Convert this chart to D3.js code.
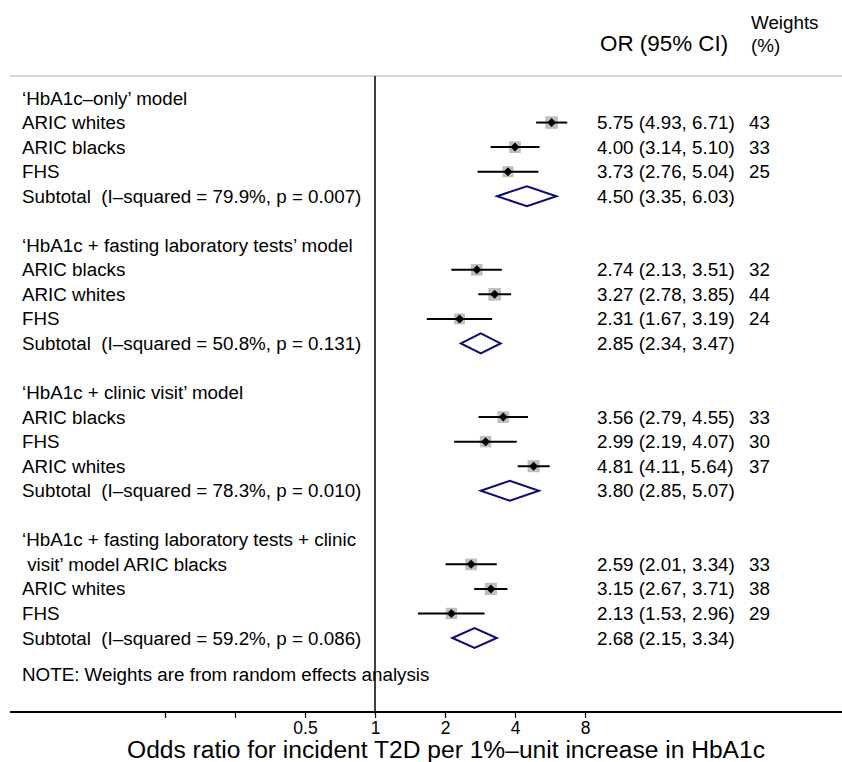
<!DOCTYPE html>
<html>
<head>
<meta charset="utf-8">
<script src="https://cdn.jsdelivr.net/npm/d3@7"></script>
<style>
  body { margin: 0; background: #fff; }
  text { font-family: "Liberation Sans", Arial, sans-serif; fill: #000; }
</style>
</head>
<body>
<svg id="chart" width="842" height="762"></svg>
<script>
// rows of the forest plot, top to bottom
const labels = [
    "‘HbA1c–only’ model", "ARIC whites", "ARIC blacks", "FHS",
    "Subtotal  (I–squared = 79.9%, p = 0.007)", "",
    "‘HbA1c + fasting laboratory tests’ model", "ARIC blacks", "ARIC whites", "FHS",
    "Subtotal  (I–squared = 50.8%, p = 0.131)", "",
    "‘HbA1c + clinic visit’ model", "ARIC blacks", "FHS", "ARIC whites",
    "Subtotal  (I–squared = 78.3%, p = 0.010)", "",
    "‘HbA1c + fasting laboratory tests + clinic", " visit’ model ARIC blacks", "ARIC whites", "FHS",
    "Subtotal  (I–squared = 59.2%, p = 0.086)"
];
const kinds = [
    "head", "study", "study", "study", "sub", "blank",
    "head", "study", "study", "study", "sub", "blank",
    "head", "study", "study", "study", "sub", "blank",
    "head", "study", "study", "study", "sub"
];
const oddsRatio = [null, 5.75, 4.00, 3.73, 4.50, null, null, 2.74, 3.27, 2.31, 2.85, null, null, 3.56, 2.99, 4.81, 3.80, null, null, 2.59, 3.15, 2.13, 2.68];
const lower =     [null, 4.93, 3.14, 2.76, 3.35, null, null, 2.13, 2.78, 1.67, 2.34, null, null, 2.79, 2.19, 4.11, 2.85, null, null, 2.01, 2.67, 1.53, 2.15];
const upper =     [null, 6.71, 5.10, 5.04, 6.03, null, null, 3.51, 3.85, 3.19, 3.47, null, null, 4.55, 4.07, 5.64, 5.07, null, null, 3.34, 3.71, 2.96, 3.34];
const weights =   [null, 43, 33, 25, null, null, null, 32, 44, 24, null, null, null, 33, 30, 37, null, null, null, 33, 38, 29, null];
const tickValues = [0.125, 0.25, 0.5, 1, 2, 4, 8];
const tickLabels = ["", "", "0.5", "1", "2", "4", "8"];

const svg = d3.select("#chart");
const width = 842;
const axisY = 712, topLine = 76;
const rowFont = "18.8px";

const x = d3.scaleLog().base(2).domain([0.125, 8]).range([165, 585]);
const y = d3.scaleLinear().domain([0, 22]).range([98, 638]);

const rows = labels.map((label, i) => ({
    i, label, kind: kinds[i], or: oddsRatio[i], lo: lower[i], hi: upper[i], w: weights[i]
}));

// header
svg.append("text").attr("x", 600).attr("y", 43).attr("dy", "0.35em")
    .style("font-size", "22.4px").text("OR (95% CI)");
svg.append("text").attr("x", 751).attr("y", 22).attr("dy", "0.35em")
    .style("font-size", rowFont).text("Weights");
svg.append("text").attr("x", 751).attr("y", 45).attr("dy", "0.35em")
    .style("font-size", rowFont).text("(%)");

// grey separator under header
svg.append("line")
    .attr("x1", 10).attr("x2", width).attr("y1", topLine).attr("y2", topLine)
    .attr("stroke", "#c8c8c8").attr("stroke-width", 1.5);

// null line at OR = 1
svg.append("line")
    .attr("x1", x(1)).attr("x2", x(1)).attr("y1", topLine).attr("y2", axisY)
    .attr("stroke", "#000").attr("stroke-width", 1.5);

// row labels
svg.selectAll(".row-label")
    .data(rows.filter(d => d.kind !== "blank"))
    .join("text")
    .attr("class", "row-label")
    .attr("x", 22)
    .attr("y", d => y(d.i))
    .attr("dy", "0.35em")
    .style("font-size", rowFont)
    .style("white-space", "pre")
    .text(d => d.label);

// study estimates
const studies = rows.filter(d => d.kind === "study");
const side = w => 6 + Math.sqrt(w);
svg.selectAll(".box")
    .data(studies)
    .join("rect")
    .attr("class", "box")
    .attr("x", d => x(d.or) - side(d.w) / 2)
    .attr("y", d => y(d.i) - side(d.w) / 2)
    .attr("width", d => side(d.w))
    .attr("height", d => side(d.w))
    .attr("fill", "#bfbfbf");
svg.selectAll(".ci")
    .data(studies)
    .join("line")
    .attr("class", "ci")
    .attr("x1", d => x(d.lo)).attr("x2", d => x(d.hi))
    .attr("y1", d => y(d.i)).attr("y2", d => y(d.i))
    .attr("stroke", "#000").attr("stroke-width", 2);
svg.selectAll(".point")
    .data(studies)
    .join("path")
    .attr("class", "point")
    .attr("d", d => {
        const cx = x(d.or), cy = y(d.i), r = 4.5;
        return `M${cx - r},${cy}L${cx},${cy - r}L${cx + r},${cy}L${cx},${cy + r}Z`;
    })
    .attr("fill", "#000");

// pooled subtotals
const subs = rows.filter(d => d.kind === "sub");
svg.selectAll(".pooled")
    .data(subs)
    .join("path")
    .attr("class", "pooled")
    .attr("d", d => {
        const cy = y(d.i), h = 10;
        return `M${x(d.lo)},${cy}L${x(d.or)},${cy - h}L${x(d.hi)},${cy}L${x(d.or)},${cy + h}Z`;
    })
    .attr("fill", "none")
    .attr("stroke", "#0b0b73")
    .attr("stroke-width", 2);

// OR text and weights
const fmt = d3.format(".2f");
svg.selectAll(".or-text")
    .data(rows.filter(d => d.or !== null))
    .join("text")
    .attr("class", "or-text")
    .attr("x", 597)
    .attr("y", d => y(d.i))
    .attr("dy", "0.35em")
    .style("font-size", rowFont)
    .text(d => `${fmt(d.or)} (${fmt(d.lo)}, ${fmt(d.hi)})`);
svg.selectAll(".w-text")
    .data(studies)
    .join("text")
    .attr("class", "w-text")
    .attr("x", 749)
    .attr("y", d => y(d.i))
    .attr("dy", "0.35em")
    .style("font-size", rowFont)
    .text(d => d.w);

// note
svg.append("text").attr("x", 22).attr("y", y(23.5)).attr("dy", "0.35em")
    .style("font-size", rowFont).text("NOTE: Weights are from random effects analysis");

// x axis
svg.append("line")
    .attr("x1", 10).attr("x2", width).attr("y1", axisY).attr("y2", axisY)
    .attr("stroke", "#000").attr("stroke-width", 2);
const axis = svg.append("g")
    .attr("transform", `translate(0,${axisY})`)
    .call(d3.axisBottom(x)
        .tickValues(tickValues)
        .tickFormat((d, i) => tickLabels[i])
        .tickSize(6)
        .tickPadding(4));
axis.select(".domain").remove();
axis.selectAll(".tick line").attr("stroke-width", 1.2);
axis.selectAll(".tick text")
    .style("font-family", "'Liberation Sans', Arial, sans-serif")
    .style("font-size", "17.5px");

svg.append("text")
    .attr("x", 446).attr("y", 750).attr("dy", "0.35em")
    .attr("text-anchor", "middle")
    .attr("textLength", 638)
    .attr("lengthAdjust", "spacingAndGlyphs")
    .style("font-size", "23px")
    .text("Odds ratio for incident T2D per 1%–unit increase in HbA1c");
</script>
</body>
</html>
